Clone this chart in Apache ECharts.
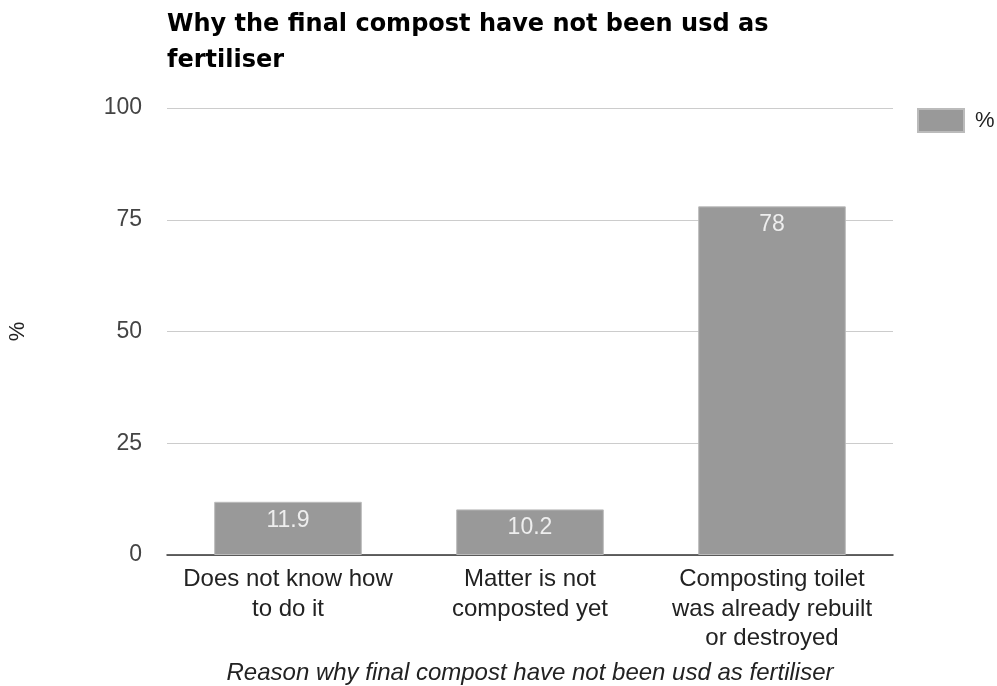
<!DOCTYPE html>
<html>
<head>
<meta charset="utf-8">
<script src="https://cdn.jsdelivr.net/npm/echarts@6/dist/echarts.min.js"></script>
<style>
  html, body { margin: 0; padding: 0; background: #fff; }
  #chart { width: 997px; height: 686px; }
</style>
</head>
<body>
<div id="chart"></div>
<script>
// Reasons the finished compost was not used as fertiliser (%)
const categories = [
  'Does not know how\nto do it',
  'Matter is not\ncomposted yet',
  'Composting toilet\nwas already rebuilt\nor destroyed'
];
const percentValues = [11.9, 10.2, 78];
const yTicks = [0, 25, 50, 75, 100];

const SANS = 'Liberation Sans, Arial, sans-serif';

const chart = echarts.init(document.getElementById('chart'), null, { renderer: 'canvas' });

chart.setOption({
  animation: false,
  backgroundColor: '#ffffff',
  title: {
    text: 'Why the final compost have not been usd as\nfertiliser',
    left: 162,
    top: 2,
    textStyle: {
      fontFamily: 'DejaVu Sans, sans-serif',
      fontWeight: 'bold',
      fontSize: 24,
      lineHeight: 36,
      color: '#000'
    }
  },
  legend: {
    data: ['%'],
    left: 917,
    top: 108,
    padding: 0,
    itemWidth: 46,
    itemHeight: 23,
    itemGap: 10,
    icon: 'rect',
    textStyle: { fontFamily: SANS, fontSize: 22, color: '#222', padding: [0, 0, 0, 6] }
  },
  grid: {
    left: 167,
    right: 104,
    top: 108,
    bottom: 131,
    outerBoundsMode: 'none',
    containLabel: false
  },
  xAxis: {
    type: 'category',
    data: categories,
    name: 'Reason why final compost have not been usd as fertiliser',
    nameLocation: 'middle',
    nameGap: 106,
    nameTextStyle: {
      fontFamily: SANS,
      fontStyle: 'italic',
      fontSize: 24,
      color: '#222'
    },
    axisLine: { show: true, lineStyle: { color: '#333', width: 1.5 } },
    axisTick: { show: false },
    axisLabel: {
      interval: 0,
      margin: 10,
      fontFamily: SANS,
      fontSize: 24,
      lineHeight: 29.5,
      color: '#222'
    }
  },
  yAxis: {
    type: 'value',
    min: yTicks[0],
    max: yTicks[yTicks.length - 1],
    interval: 25,
    name: '%',
    nameLocation: 'middle',
    nameGap: 138,
    nameRotate: 90,
    nameTextStyle: { fontFamily: SANS, fontSize: 22, color: '#222' },
    axisLine: { show: false },
    axisTick: { show: false },
    axisLabel: {
      margin: 25,
      fontFamily: SANS,
      fontSize: 23,
      color: '#444'
    },
    splitLine: { lineStyle: { color: '#cccccc', width: 1 } }
  },
  series: [{
    name: '%',
    type: 'bar',
    data: percentValues,
    barWidth: '61%',
    itemStyle: { color: '#999999', borderColor: '#bbbbbb', borderWidth: 1 },
    label: {
      show: true,
      position: 'insideTop',
      distance: 7,
      fontFamily: SANS,
      fontSize: 23,
      color: '#eeeeee'
    }
  }]
});
</script>
</body>
</html>
